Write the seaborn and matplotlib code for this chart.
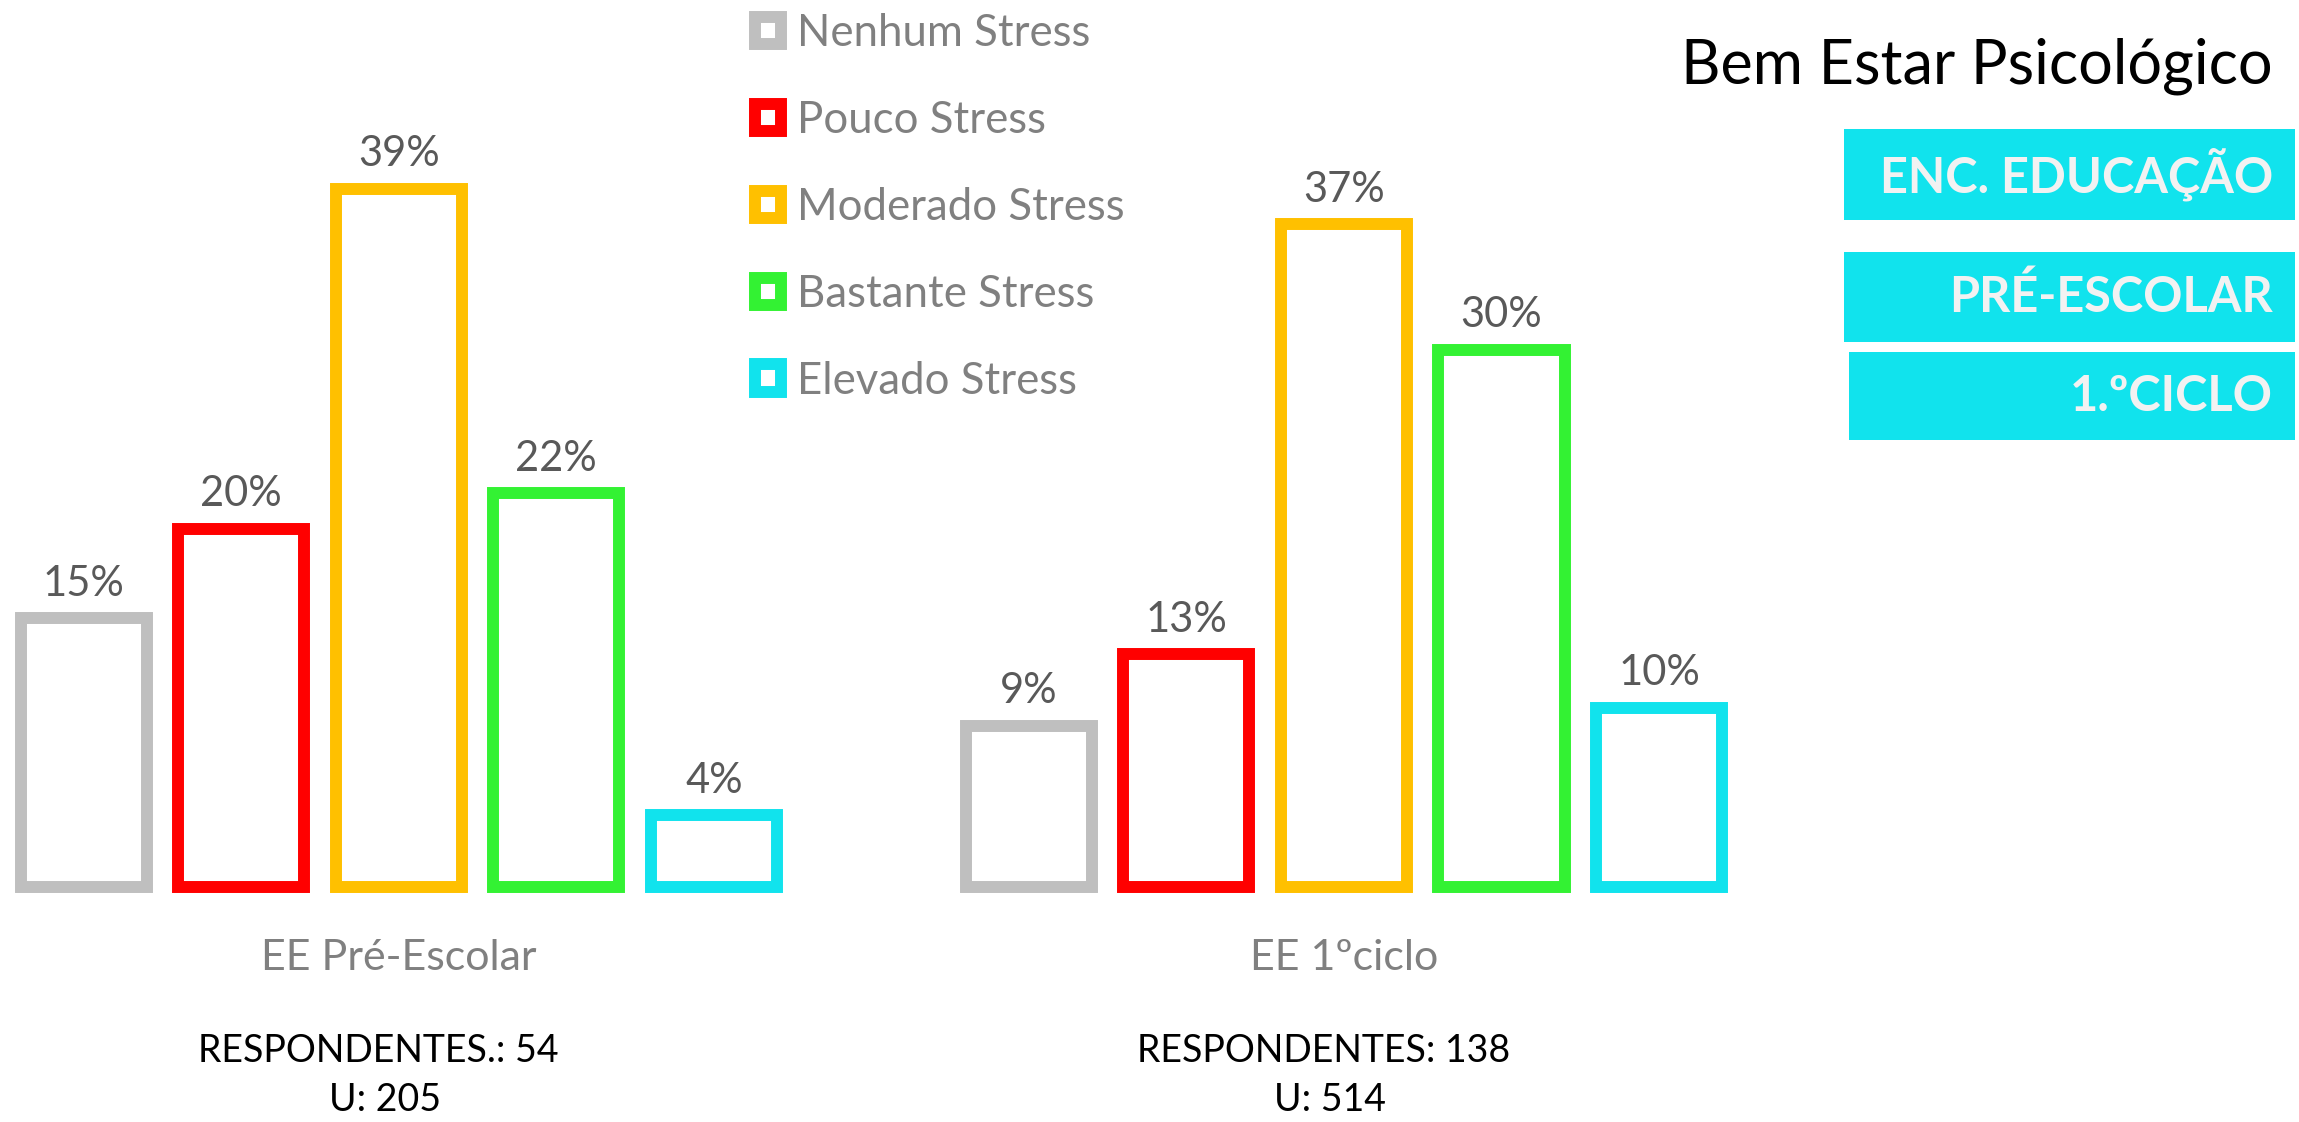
import numpy as np
import pandas as pd
import matplotlib.pyplot as plt
import seaborn as sns
from matplotlib.patches import Patch, Rectangle

# data
grupos = ['EE Pré-Escolar', 'EE 1ºciclo']
niveis = ['Nenhum Stress', 'Pouco Stress', 'Moderado Stress', 'Bastante Stress', 'Elevado Stress']
pre_escolar = [15, 20, 39, 22, 4]
primeiro_ciclo = [9, 13, 37, 30, 10]
respondentes = ['RESPONDENTES.: 54', 'RESPONDENTES: 138']
universo = ['U: 205', 'U: 514']
cores = ['#BFBFBF', '#FF0000', '#FFC000', '#33F233', '#11E3ED']
caixas = ['ENC. EDUCAÇÃO', 'PRÉ-ESCOLAR', '1.ºCICLO']

df = pd.DataFrame({
    'grupo': np.repeat(grupos, len(niveis)),
    'nivel': niveis * len(grupos),
    'valor': pre_escolar + primeiro_ciclo,
})

sns.set_theme(style='white')
plt.rcParams['font.family'] = ['Lato', 'DejaVu Sans']

W, H = 2299, 1122
fig = plt.figure(figsize=(W / 100, H / 100), dpi=100)
ax = fig.add_axes([0, 217.4 / H, 1, 823.4 / H])

sns.barplot(data=df, x='grupo', y='valor', hue='nivel', order=grupos, hue_order=niveis,
            palette=cores, width=5 / 6, gap=0.2, fill=False, linewidth=8.6,
            errorbar=None, legend=False, ax=ax)

for cont in ax.containers:
    ax.bar_label(cont, labels=[f'{v:.0f}%' for v in cont.datavalues],
                 padding=11, fontsize=30, color='#595959')

ax.set_xlim(-0.4219, 2.0104)
ax.set_ylim(-1, 45)
ax.set_xlabel('')
ax.set_ylabel('')
ax.set_yticks([])
ax.tick_params(axis='x', length=0, pad=25, labelsize=31, labelcolor='#808080')
sns.despine(ax=ax, left=True, bottom=True)

# respondents under each group
for i, (r, u) in enumerate(zip(respondentes, universo)):
    fx = (i + 0.4219) / 2.4323 - 0.009
    fig.text(fx, 1 - 1051 / H, r, ha='center', va='center', fontsize=27, color='black')
    fig.text(fx + 0.003, 1 - 1100 / H, u, ha='center', va='center', fontsize=27, color='black')

# legend
handles = [Patch(facecolor='white', edgecolor=c, linewidth=8.6, label=n) for c, n in zip(cores, niveis)]
fig.legend(handles=handles, loc='upper left', bbox_to_anchor=(755 / W, 1 - 13 / H),
           frameon=False, fontsize=31.5, labelcolor='#808080', handlelength=0.6,
           handleheight=0.6, handletextpad=0.35, labelspacing=1.05, borderpad=0,
           borderaxespad=0)

# title and cyan boxes
fig.text(2273 / W, 1 - 66 / H, 'Bem Estar Psicológico', ha='right', va='center',
         fontsize=44, color='black')
box_y = [(129, 220), (252, 342), (352, 440)]
box_x = [1844, 1844, 1849]
for txt, (y0, y1), x0 in zip(caixas, box_y, box_x):
    fig.patches.append(Rectangle((x0 / W, 1 - y1 / H), (2295 - x0) / W, (y1 - y0) / H,
                                 transform=fig.transFigure, facecolor='#11E3ED',
                                 edgecolor='none', zorder=1))
    fig.text(2273 / W, 1 - (y0 + y1) / 2 / H, txt, ha='right', va='center',
             fontsize=35, fontweight='bold', color='#F2F2F2', zorder=2)

fig.savefig('out.png', dpi=100)
